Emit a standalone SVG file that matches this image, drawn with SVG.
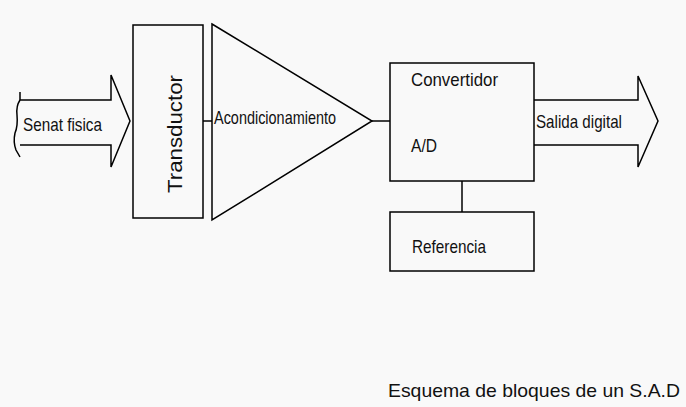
<svg xmlns="http://www.w3.org/2000/svg" width="686" height="407" viewBox="0 0 686 407">
<style>
.s{fill:none;stroke:#000;stroke-width:1.5}
.b{fill:#f9f9f9;stroke:#000;stroke-width:1.5}
text{font-family:"Liberation Sans",Arial,sans-serif;fill:#111;font-size:19px}
</style>
<rect x="0" y="0" width="686" height="407" fill="#f9f9f9"/>
<g id="connectors">
<line class="s" x1="203" y1="121" x2="212" y2="121"/>
<line class="s" x1="372" y1="121" x2="390" y2="121"/>
<line class="s" x1="462" y1="181" x2="462" y2="212"/>
</g>
<g id="entrada">
<path class="s" d="M20,92 V100 H111 V75 L130,121 L111,167 V145 H20"/>
<path class="s" d="M20,100 Q16,106 17,115 Q18,126 15,133 Q13,142 16,150 L20,157"/>
<text x="23" y="131" textLength="79" lengthAdjust="spacingAndGlyphs">Senat fisica</text>
</g>
<g id="transductor">
<rect class="b" x="133" y="25" width="70" height="193"/>
<text transform="translate(182,193) rotate(-90)" style="font-size:21px" textLength="118" lengthAdjust="spacingAndGlyphs">Transductor</text>
</g>
<g id="acondicionamiento">
<polygon class="b" points="212,24 372,121 212,220"/>
<text x="214" y="124" textLength="122" lengthAdjust="spacingAndGlyphs">Acondicionamiento</text>
</g>
<g id="convertidor">
<rect class="b" x="390" y="63" width="144" height="118"/>
<text x="411" y="86" textLength="87" lengthAdjust="spacingAndGlyphs">Convertidor</text>
<text x="411" y="152" textLength="26" lengthAdjust="spacingAndGlyphs">A/D</text>
</g>
<g id="referencia">
<rect class="b" x="390" y="212" width="144" height="59"/>
<text x="412" y="253" textLength="74" lengthAdjust="spacingAndGlyphs">Referencia</text>
</g>
<g id="salida">
<path class="s" d="M534,100 H638 V76 L658,121 L638,167 V145 H534"/>
<text x="536" y="128" textLength="86" lengthAdjust="spacingAndGlyphs">Salida digital</text>
</g>
<text x="388" y="397" style="font-size:19px" textLength="292" lengthAdjust="spacingAndGlyphs">Esquema de bloques de un S.A.D</text>
</svg>
